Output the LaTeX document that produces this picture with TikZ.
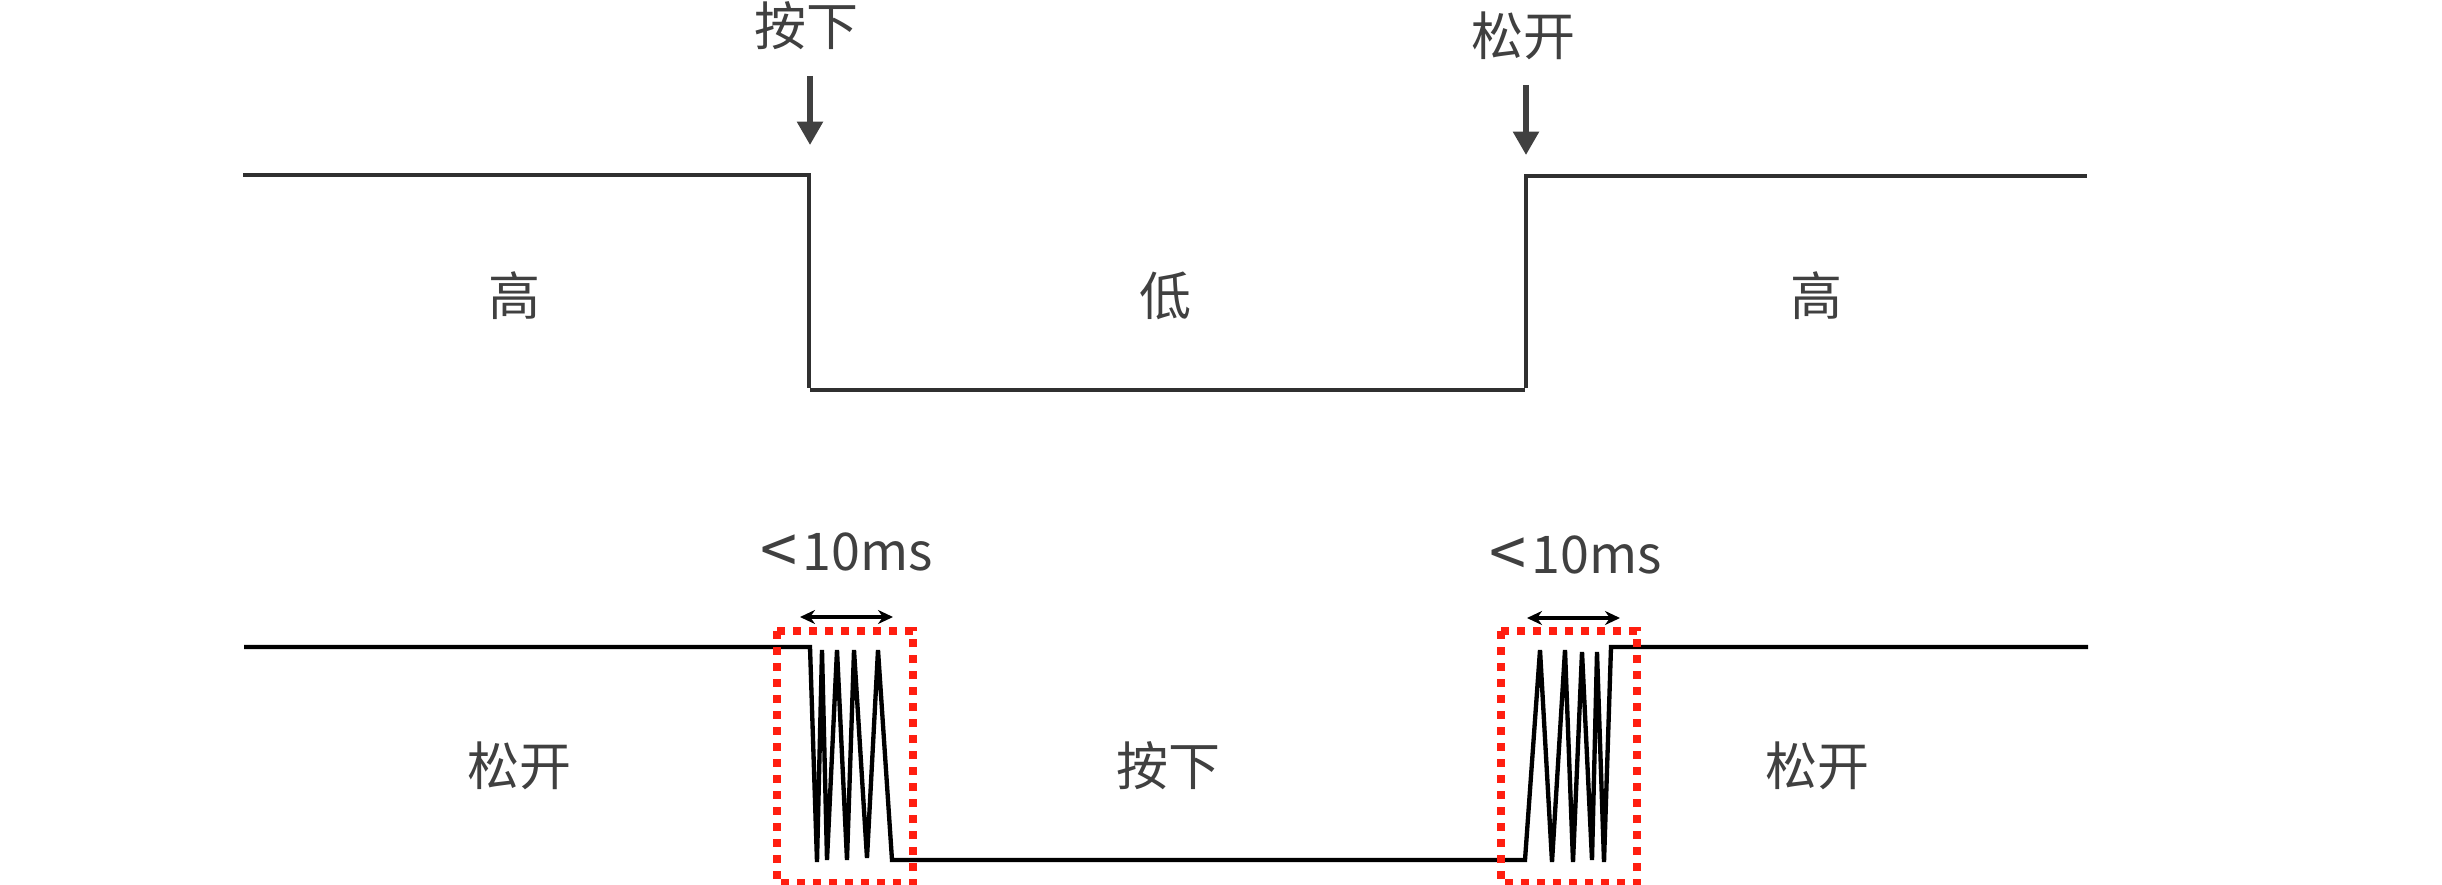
\documentclass[tikz,border=0pt]{standalone}
\usepackage{fontspec}
\setmainfont{Noto Sans CJK SC}
\usetikzlibrary{arrows.meta}
\definecolor{txt}{HTML}{404040}
\definecolor{wave}{HTML}{303030}
\definecolor{boxred}{HTML}{FF1E10}
\newcommand{\bigless}{\raisebox{-1.2pt}{\fontsize{20pt}{20pt}\selectfont<}}
\begin{document}
\begin{tikzpicture}[x=0.3pt,y=-0.3pt,
  lbl/.style={text=txt,font=\fontsize{15.6pt}{18pt}\selectfont,inner sep=0pt},
  sig/.style={draw=wave,line width=1.2pt,line join=miter},
  bsig/.style={draw=black,line width=1.3pt,line join=miter},
  press/.style={draw=txt,line width=1.6pt,-{Triangle[width=7.5pt,length=7pt]}},
  span/.style={draw=black,line width=1.2pt,{Stealth[width=4.2pt,length=4.5pt]}-{Stealth[width=4.2pt,length=4.5pt]}},
  bounce/.style={draw=boxred,line width=2.3pt,dash pattern=on 2.3pt off 2.5pt}]
\useasboundingbox (0,0) rectangle (2442,885);
% top waveform
\coordinate (t0) at (243,175);
\coordinate (t1) at (809,175);
\coordinate (t2) at (809,388);
\coordinate (t3) at (810,390);
\coordinate (t4) at (1525,390);
\coordinate (t5) at (1526,388);
\coordinate (t6) at (1526,176);
\coordinate (t7) at (2087,176);
\draw[sig] (t0) -- (t1) -- (t2);
\draw[sig] (t3) -- (t4);
\draw[sig] (t5) -- (t6) -- (t7);
% top labels and arrows
\node[lbl] (press1) at (806,26) {按下};
\node[lbl] (rel1) at (1523,36) {松开};
\coordinate (a1s) at (810,76);
\coordinate (a1e) at (810,145);
\coordinate (a2s) at (1526,85);
\coordinate (a2e) at (1526,155);
\draw[press] (a1s) -- (a1e);
\draw[press] (a2s) -- (a2e);
\node[lbl] (hi1) at (514,296) {高};
\node[lbl] (lo) at (1165,296) {低};
\node[lbl] (hi2) at (1816,296) {高};
% bottom waveform
\coordinate (b0) at (244,647);
\coordinate (b1) at (810,647);
\coordinate (b2) at (892,860);
\coordinate (b3) at (1525,860);
\coordinate (b4) at (1611,647);
\coordinate (b5) at (2088,647);
\draw[bsig] (b0) -- (b1) -- (817,862) -- (822,650) -- (827,860) -- (837,650)
  -- (847,860) -- (854,650) -- (867,858) -- (878,650) -- (b2) -- (b3)
  -- (1540,650) -- (1552,862) -- (1565,650) -- (1573,862) -- (1582,652)
  -- (1592,860) -- (1597,652) -- (1604,862) -- (b4) -- (b5);
% bounce boxes
\draw[bounce] (777,631) rectangle (913,883);
\draw[bounce] (1501,631) rectangle (1637,883);
% spans
\coordinate (s1a) at (800,617);
\coordinate (s1b) at (893,617);
\coordinate (s2a) at (1527,618);
\coordinate (s2b) at (1620,618);
\draw[span] (s1a) -- (s1b);
\draw[span] (s2a) -- (s2b);
\node[lbl] (ms1) at (847,554) {\bigless\kern1.5pt10ms};
\node[lbl] (ms2) at (1576,557) {\bigless\kern1.5pt10ms};
% bottom labels
\node[lbl] (rel2) at (519,766) {松开};
\node[lbl] (press2) at (1168,766) {按下};
\node[lbl] (rel3) at (1817,766) {松开};
\end{tikzpicture}
\end{document}
